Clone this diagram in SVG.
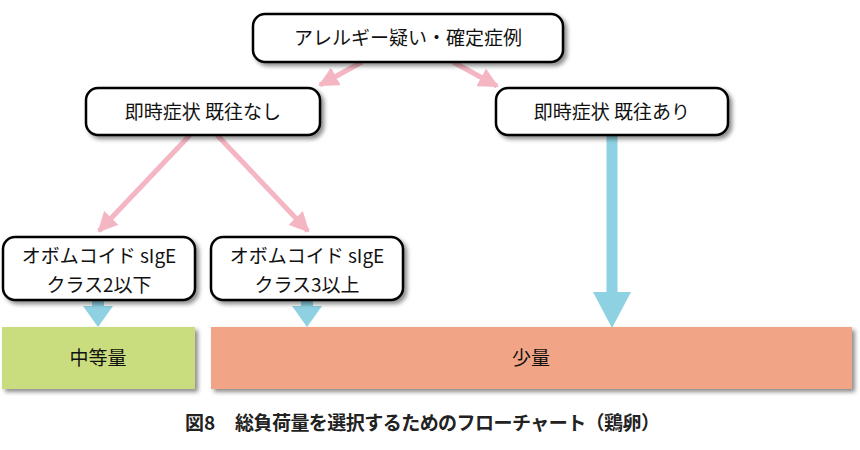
<svg xmlns="http://www.w3.org/2000/svg" width="860" height="450" viewBox="0 0 860 450">
<defs>
<filter id="sh" x="-10%" y="-20%" width="130%" height="160%">
<feDropShadow dx="3" dy="3" stdDeviation="2" flood-color="#000" flood-opacity="0.45"/>
</filter>
<marker id="pk" viewBox="0 0 10 10" refX="9" refY="5" markerWidth="4" markerHeight="4" orient="auto" markerUnits="strokeWidth">
<path d="M0,0 L10,5 L0,10 Z" fill="#F4B6C2"/>
</marker>
</defs>
<style>
.box{fill:#fff;stroke:#000;stroke-width:2.5}
.t{font-family:"Meiryo","Noto Sans CJK JP","Noto Sans",sans-serif;font-size:19px;fill:#111;text-anchor:middle}
.pl{stroke:#F4B6C2;stroke-width:5;fill:none}
.bl{fill:#8DD1E2}
.cap{font-family:"Meiryo","Noto Sans CJK JP","Noto Sans",sans-serif;font-size:19px;font-weight:bold;fill:#222}
</style>
<rect width="860" height="450" fill="#fff"/>
<g id="connectors">
<line class="pl" x1="362" y1="62" x2="320" y2="85" marker-end="url(#pk)"/>
<line class="pl" x1="453" y1="62" x2="497" y2="86" marker-end="url(#pk)"/>
<line class="pl" x1="190" y1="135" x2="99" y2="231" marker-end="url(#pk)"/>
<line class="pl" x1="217" y1="135" x2="308" y2="231" marker-end="url(#pk)"/>
<path class="bl" d="M92,300 H104 V306 H113 L98,327 L83,306 H92 Z"/>
<path class="bl" d="M301,300 H313 V306 H322 L307,327 L292,306 H301 Z"/>
<path class="bl" d="M606.5,135 H617.5 V292 H631 L612,328 L593,292 H606.5 Z"/>
</g>
<g id="n1">
<rect class="box" x="253" y="14" width="310" height="48" rx="12" filter="url(#sh)"/>
<text class="t" x="408" y="45">アレルギー疑い・確定症例</text>
</g>
<g id="n2">
<rect class="box" x="86" y="88" width="234" height="47" rx="12" filter="url(#sh)"/>
<text class="t" x="203" y="119" font-size="20">即時症状 既往なし</text>
</g>
<g id="n3">
<rect class="box" x="496" y="88" width="232" height="47" rx="12" filter="url(#sh)"/>
<text class="t" x="612" y="119" font-size="20">即時症状 既往あり</text>
</g>
<g id="n4">
<rect class="box" x="3" y="237" width="192" height="63" rx="12" filter="url(#sh)"/>
<text class="t" x="99" y="263">オボムコイド sIgE</text>
<text class="t" x="99" y="292">クラス2以下</text>
</g>
<g id="n5">
<rect class="box" x="211" y="237" width="192" height="63" rx="12" filter="url(#sh)"/>
<text class="t" x="307" y="263">オボムコイド sIgE</text>
<text class="t" x="307" y="292">クラス3以上</text>
</g>
<g id="n6">
<rect x="2" y="327" width="193" height="62" fill="#CADD7E" filter="url(#sh)"/>
<text class="t" x="98" y="365">中等量</text>
</g>
<g id="n7">
<rect x="211" y="327" width="641" height="62" fill="#F2A486" filter="url(#sh)"/>
<text class="t" x="531" y="365">少量</text>
</g>
<text class="cap" y="430"><tspan x="185">図8</tspan><tspan x="235" textLength="425" lengthAdjust="spacing">総負荷量を選択するためのフローチャート（鶏卵）</tspan></text>
</svg>
